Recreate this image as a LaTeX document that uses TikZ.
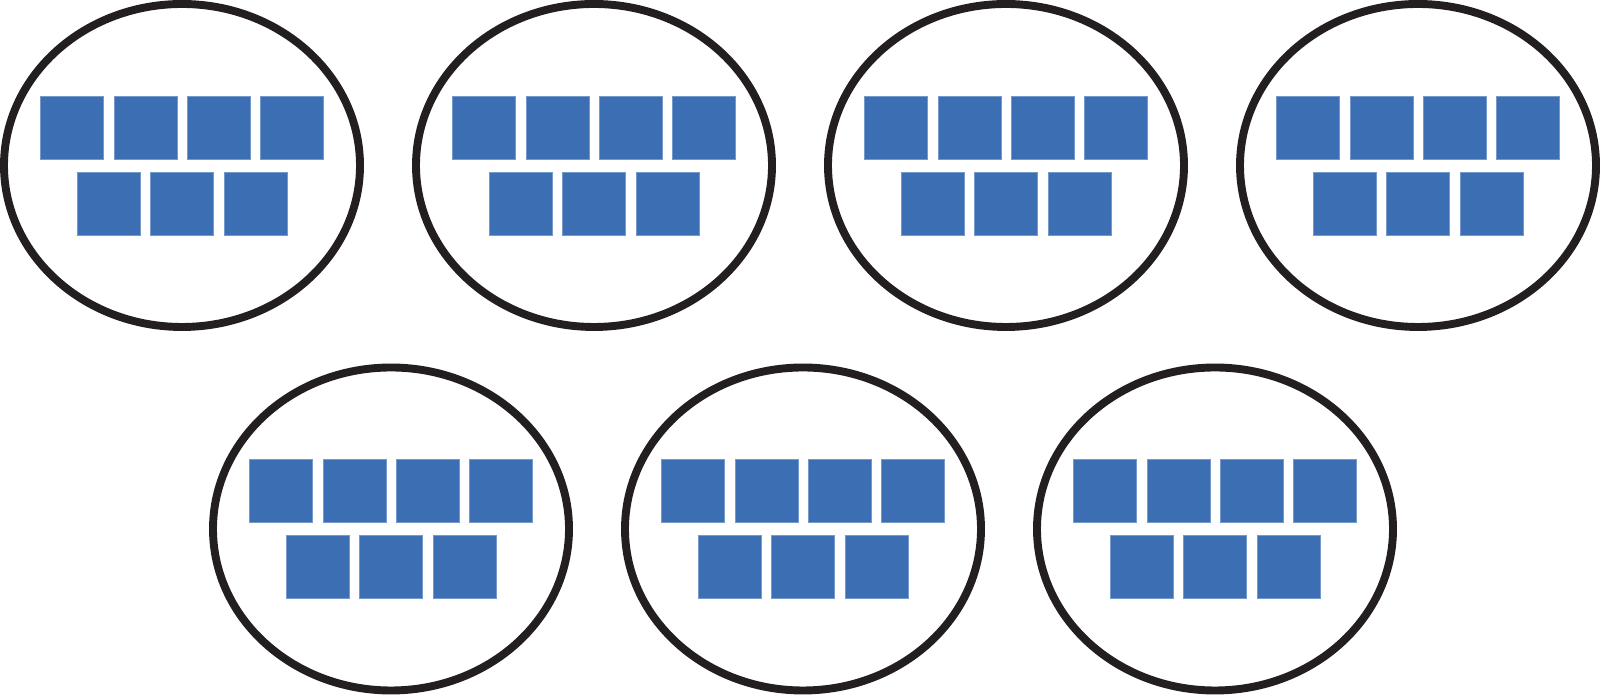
\documentclass[tikz,border=0pt]{standalone}
\usetikzlibrary{shapes.geometric}

\definecolor{tileblue}{RGB}{60,110,180}
\definecolor{ringblack}{RGB}{35,31,32}

\begin{document}
\begin{tikzpicture}[
    group/.style={
        ellipse,
        draw=ringblack,
        line width=4.5pt,
        minimum width=7.12cm,
        minimum height=6.46cm,
        inner sep=0pt
    },
    tile/.style={
        rectangle,
        fill=tileblue,
        draw=tileblue!70!white,
        line width=0.3pt,
        minimum size=1.26cm,
        inner sep=0pt
    }
]

\useasboundingbox (0,0) rectangle (32,13.92);

% Horizontal positions
\def\ColA{3.64}
\def\ColB{11.88}
\def\ColC{20.12}
\def\ColD{28.36}
\def\ColE{7.82}
\def\ColF{16.06}
\def\ColG{24.30}

% Vertical positions
\def\TopY{10.61}
\def\BottomY{3.34}

% ==================================================
% Groups of seven tiles
% ==================================================

\foreach \g/\x/\y in {
    g1/\ColA/\TopY, g2/\ColB/\TopY, g3/\ColC/\TopY, g4/\ColD/\TopY,
    g5/\ColE/\BottomY, g6/\ColF/\BottomY, g7/\ColG/\BottomY}
{
    \node[group] (\g) at (\x,\y) {};

    % upper row: four tiles
    \foreach \i/\dx in {1/-2.2, 2/-0.733, 3/0.733, 4/2.2}
        \node[tile] (\g-a\i) at ([xshift=\dx cm, yshift=0.76cm]\g) {};

    % lower row: three tiles
    \foreach \i/\dx in {1/-1.466, 2/0, 3/1.466}
        \node[tile] (\g-b\i) at ([xshift=\dx cm, yshift=-0.76cm]\g) {};
}

\end{tikzpicture}
\end{document}
